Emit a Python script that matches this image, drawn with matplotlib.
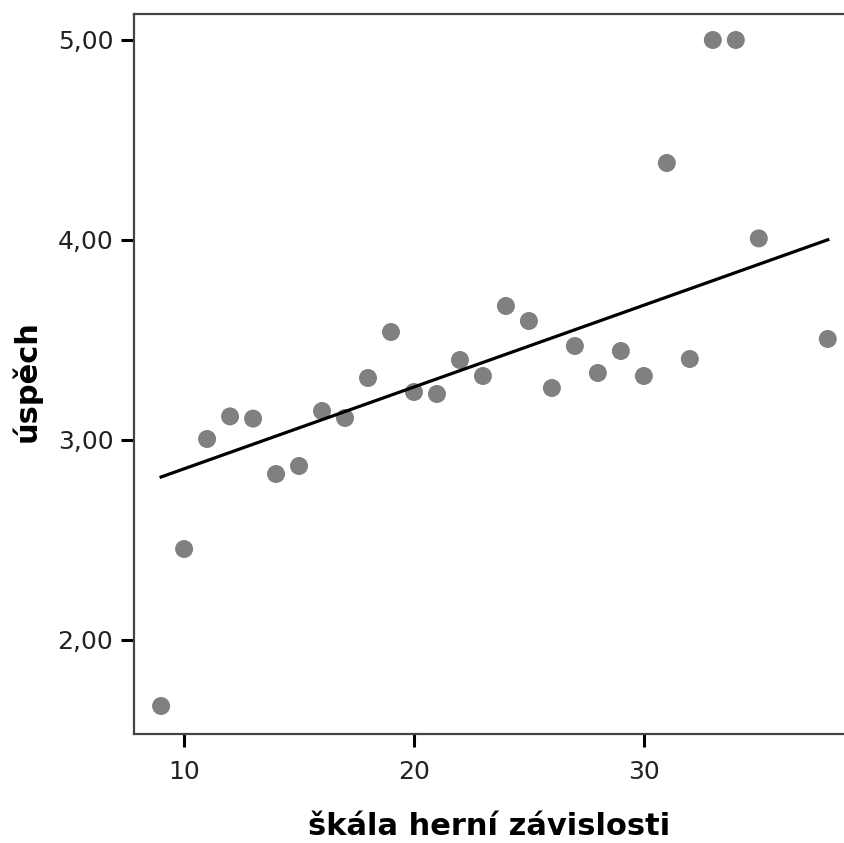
import matplotlib
matplotlib.use('Agg')
import matplotlib.pyplot as plt
import numpy as np

# --- Dati ---
skala = [9, 10, 11, 12, 13, 14, 15, 16, 17, 18, 19, 20, 21, 22,
         23, 24, 25, 26, 27, 28, 29, 30, 31, 32, 33, 34, 35, 38]
uspech = [1.67, 2.455, 3.005, 3.118, 3.107, 2.83, 2.87, 3.145, 3.11, 3.31,
          3.54, 3.24, 3.23, 3.40, 3.32, 3.67, 3.595, 3.26, 3.47, 3.335,
          3.445, 3.32, 4.385, 3.405, 5.00, 5.00, 4.008, 3.505]
# retta di regressione
fit_intercetta = 2.447
fit_pendenza = 0.0409
x_ticks = [10, 20, 30]
y_ticks = [2.0, 3.0, 4.0, 5.0]
# ------------------------------


def genera_grafico():
    fig = plt.figure(figsize=(8.45, 8.43), dpi=100)
    ax = fig.add_axes([0.158, 0.1293, 0.842, 0.8541])

    ax.scatter(skala, uspech, s=168, color='#808080', edgecolors='none', zorder=3)

    xr = np.array([min(skala), max(skala)])
    ax.plot(xr, fit_intercetta + fit_pendenza * xr, color='black', linewidth=2.3, zorder=4)

    ax.set_xlim(7.80, 38.75)
    ax.set_ylim(1.53, 5.13)

    ax.set_xticks(x_ticks)
    ax.set_xticklabels([str(t) for t in x_ticks])
    ax.set_yticks(y_ticks)
    ax.set_yticklabels([f'{t:.2f}'.replace('.', ',') for t in y_ticks])

    ax.tick_params(axis='both', direction='out', length=9.5, width=2.2,
                   color='black', labelsize=18, labelcolor='#222222')
    ax.tick_params(axis='x', pad=9)
    ax.tick_params(axis='y', pad=5)

    for side in ['left', 'bottom', 'top']:
        ax.spines[side].set_color('#444444')
        ax.spines[side].set_linewidth(1.6)
    ax.spines['right'].set_visible(False)

    ax.set_xlabel('škála herní závislosti', fontsize=22, fontweight='bold', va='top')
    ax.xaxis.set_label_coords(0.5, -0.108)
    ax.set_ylabel('úspěch', fontsize=22, fontweight='bold', va='center')
    ax.yaxis.set_label_coords(-0.150, 0.49)

    fig.savefig('out.png', dpi=100)


if __name__ == "__main__":
    genera_grafico()
